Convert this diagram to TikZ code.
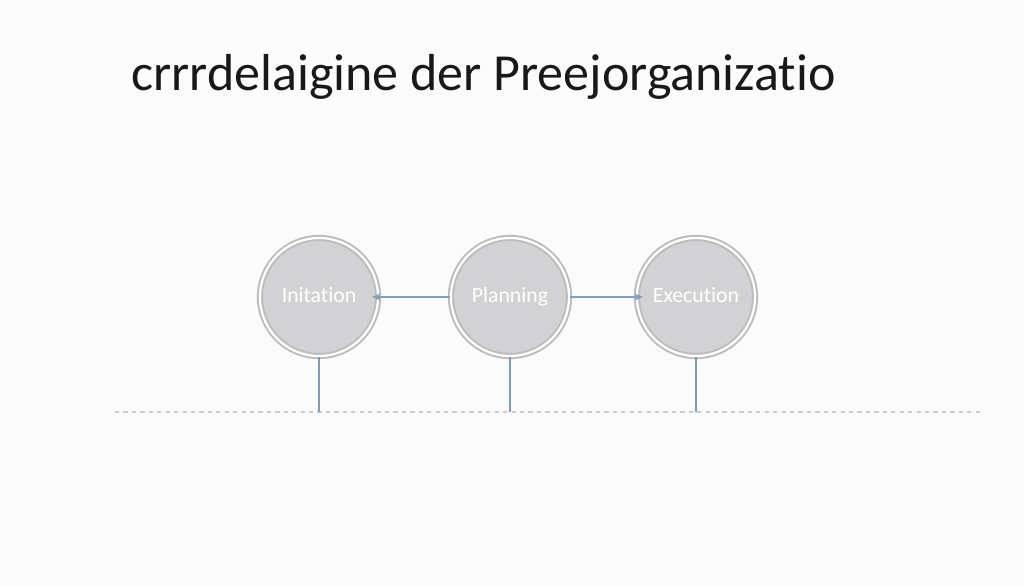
\documentclass[tikz,border=0pt]{standalone}
\usepackage{fontspec}
\setmainfont{Carlito}[RawFeature=-liga]
\usepackage{tikz}
\usetikzlibrary{arrows.meta,calc,positioning}
\usepackage{xcolor}
\definecolor{phasefill}{RGB}{210,210,212}
\definecolor{phaseedge}{RGB}{188,188,190}
\definecolor{linkblue}{RGB}{128,160,190}
\definecolor{dashgray}{RGB}{200,204,208}

\begin{document}
\begin{tikzpicture}[x=0.025cm,y=-0.025cm,
    phase/.style={circle,minimum size=2.95cm,fill=phasefill,draw=phaseedge,
        line width=1.4pt,double=white,double distance=1.6pt,
        text=white,text height=1.6ex,text depth=0.1ex,
        font=\fontsize{15.5}{18}\selectfont},
    link/.style={linkblue,line width=0.8pt,-{Stealth[length=6pt,width=5pt]}},
    stem/.style={linkblue!80!gray,line width=0.8pt}]
    \useasboundingbox[fill=gray!3] (0,0) rectangle (1024,585);
    % title
    \node[anchor=west,inner sep=0pt,font=\fontsize{37}{44}\selectfont,text=black!90] (title) at (131,77) {crrrdelaigine der Preejorganizatio};
    % the three phases
    \node[phase] (init) at (319,297) {Initation};
    \node[phase] (plan) at (510,297) {Planning};
    \node[phase] (exec) at (696,297) {Execution};
    \draw[link] (plan.west) -- ([xshift=-5pt]init.east);
    \draw[link] (plan.east) -- ([xshift=5pt]exec.west);
    % time line
    \coordinate (tl) at (115,412);
    \coordinate (tr) at (980,412);
    \draw[dashgray,dashed,line width=0.8pt] (tl) -- (tr);
    \draw[stem] (init.south) -- (init.south |- tl);
    \draw[stem] (plan.south) -- (plan.south |- tl);
    \draw[stem] (exec.south) -- (exec.south |- tl);
\end{tikzpicture}
\end{document}
